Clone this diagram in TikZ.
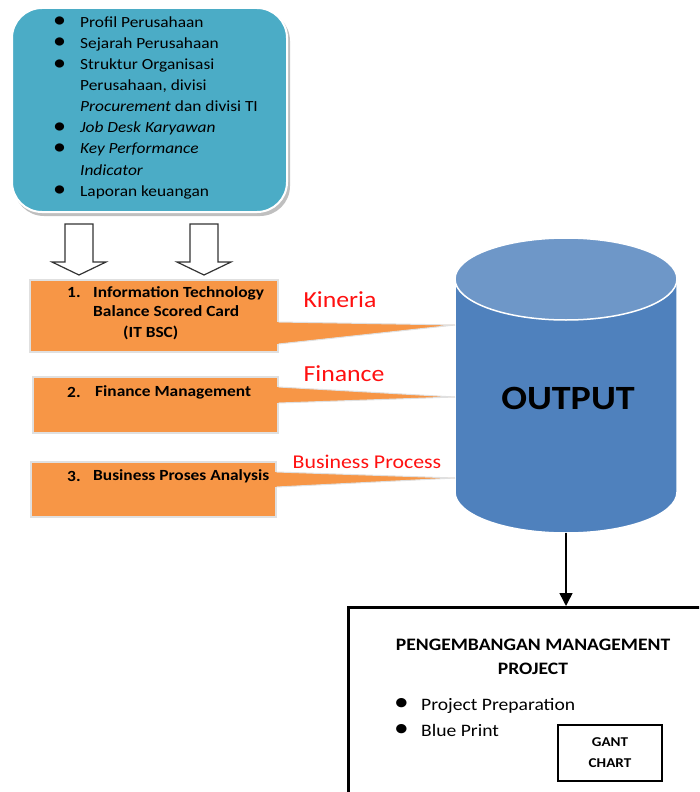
\documentclass[tikz,border=0pt]{standalone}
\usepackage{fontspec}
\setmainfont{Carlito}[FakeStretch=1.12]
\usetikzlibrary{arrows.meta}
\definecolor{aqua}{HTML}{4BACC6}
\definecolor{orng}{HTML}{F79646}
\definecolor{cylbody}{HTML}{4F81BD}
\definecolor{cyltop}{HTML}{6E97C8}
\definecolor{lblred}{HTML}{FF1010}
\newcommand{\bul}{\makebox[27pt][l]{\raisebox{-0.5pt}{\scalebox{1.5}{\textbullet}}}}

\begin{document}
\begin{tikzpicture}[x=1pt, y=1pt,
  srcbox/.style = {draw=white, line width=2pt, fill=aqua, rounded corners=30pt, minimum width=275pt, minimum height=204pt, inner sep=0pt},
  obox/.style = {draw=black!12, line width=1.5pt, fill=orng, inner sep=0pt},
  otext/.style = {anchor=west, inner sep=0pt, font=\fontsize{15.5}{18}\selectfont\bfseries},
  lbl/.style = {text=lblred, inner sep=0pt},
  hollow/.style = {draw=black!80, fill=white, line width=1.2pt},
  pmpbox/.style = {draw, line width=2.5pt, anchor=north west, minimum width=360pt, minimum height=200pt}]
\useasboundingbox (0,0) rectangle (699,-792);
\clip (0,0) rectangle (699,-792);

% sumber data
\fill[black!25, rounded corners=30pt] (14,-11) rectangle (290,-216);
\node[srcbox] (src) at (149.5,-110) {};
\node[anchor=west, inner sep=0pt, font=\fontsize{15.5}{21.1}\selectfont] (srclist) at (53,-107.5) {%
  \begin{tabular}{@{}l@{}l@{}}
  \bul & Profil Perusahaan\\
  \bul & Sejarah Perusahaan\\
  \bul & Struktur Organisasi\\
   & Perusahaan, divisi\\
   & \textit{Procurement} dan divisi TI\\
  \bul & \textit{Job Desk Karyawan}\\
  \bul & \textit{Key Performance}\\
   & \textit{Indicator}\\
  \bul & Laporan keuangan
  \end{tabular}};

% panah blok
\foreach \ax in {79,204}
  \draw[hollow] (\ax-14,-224) -- (\ax+14,-224) -- (\ax+14,-262) -- (\ax+27,-262) -- (\ax,-275) -- (\ax-27,-262) -- (\ax-14,-262) -- cycle;

% output
\fill[cylbody] (455,-279) -- (455,-492) arc[start angle=180, end angle=360, x radius=111, y radius=41] -- (677,-279) -- cycle;
\draw[white, line width=1.5pt] (455,-279) -- (455,-492) arc[start angle=180, end angle=360, x radius=111, y radius=41] -- (677,-279);
\filldraw[fill=cyltop, draw=white, line width=1.5pt] (566,-279) ellipse[x radius=111, y radius=41];
\node[font=\fontsize{34}{36}\selectfont\bfseries] (out) at (568,-398) {OUTPUT};
\coordinate (k1) at (455,-325);
\coordinate (k2) at (455,-397);
\coordinate (k3) at (455,-478);
\coordinate (cylbot) at (566,-533);

% kotak analisis
\node[obox, minimum width=248pt, minimum height=72pt] (it) at (154,-316) {};
\node[obox, minimum width=245pt, minimum height=56pt] (fin) at (155.5,-405) {};
\node[obox, minimum width=245pt, minimum height=55pt] (bpa) at (153.5,-489.5) {};
\fill[orng] ([xshift=-2pt,yshift=-6pt]it.east) -- (k1) -- ([xshift=-2pt,yshift=-28pt]it.east) -- cycle;
\draw[black!12, line width=1pt] ([yshift=-6pt]it.east) -- (k1) -- ([yshift=-28pt]it.east);
\fill[orng] ([xshift=-2pt,yshift=18pt]fin.east) -- (k2) -- ([xshift=-2pt,yshift=2pt]fin.east) -- cycle;
\draw[black!12, line width=1pt] ([yshift=18pt]fin.east) -- (k2) -- ([yshift=2pt]fin.east);
\fill[orng] ([xshift=-2pt,yshift=17.5pt]bpa.east) -- (k3) -- ([xshift=-2pt,yshift=2.5pt]bpa.east) -- cycle;
\draw[black!12, line width=1pt] ([yshift=17.5pt]bpa.east) -- (k3) -- ([yshift=2.5pt]bpa.east);

\node[otext] (itnum) at (67,-293) {1.};
\node[otext] (itl1) at (93,-293) {Information Technology};
\node[otext] (itl2) at (93,-311) {Balance Scored Card};
\node[otext] (itl3) at (123,-333) {(IT BSC)};
\node[otext] (finnum) at (67,-392) {2.};
\node[otext] (finl1) at (95,-392) {Finance Management};
\node[otext] (bpanum) at (67,-476) {3.};
\node[otext] (bpal1) at (93,-476) {Business Proses Analysis};

\node[lbl, font=\fontsize{23}{26}\selectfont] (kin) at (340,-300) {Kineria};
\node[lbl, font=\fontsize{23}{26}\selectfont] (fnc) at (344,-374) {Finance};
\node[lbl, font=\fontsize{19.5}{22}\selectfont] (bp) at (367,-462) {Business Process};

% pengembangan
\node[pmpbox] (pmp) at (347,-606) {};
\draw[line width=1.5pt, -{Triangle[width=13pt,length=13pt]}] (cylbot) -- (cylbot |- pmp.north);
\node[align=center, font=\fontsize{17.5}{24}\selectfont\bfseries] (pmptitle) at (533,-657) {PENGEMBANGAN MANAGEMENT\\PROJECT};
\node[anchor=west, inner sep=0pt, font=\fontsize{17.5}{26}\selectfont] (pmplist) at (394,-718) {%
  \begin{tabular}{@{}l@{}l@{}}
  \bul & Project Preparation\\
  \bul & Blue Print
  \end{tabular}};
\node[draw, line width=1.2pt, minimum width=104pt, minimum height=56pt, align=center, font=\fontsize{13.5}{21}\selectfont\bfseries] (gant) at (610,-753) {GANT\\CHART};
\end{tikzpicture}
\end{document}
